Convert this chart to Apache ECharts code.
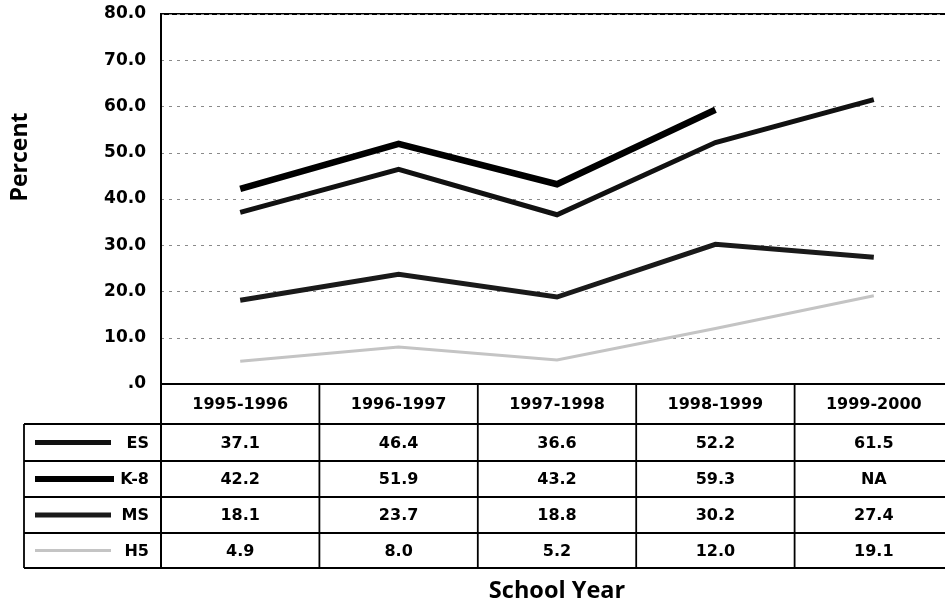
<!DOCTYPE html>
<html>
<head>
<meta charset="utf-8">
<script src="https://cdn.jsdelivr.net/npm/echarts@6/dist/echarts.min.js"></script>
<style>
html,body{margin:0;padding:0;background:#fff;}
#chart{width:945px;height:603px;}
</style>
</head>
<body>
<div id="chart"></div>
<script>
// ---- data ----
const categories = ['1995-1996', '1996-1997', '1997-1998', '1998-1999', '1999-2000'];
const seriesNames = ['ES', 'K-8', 'MS', 'H5'];
const esValues = [37.1, 46.4, 36.6, 52.2, 61.5];
const k8Values = [42.2, 51.9, 43.2, 59.3, null];
const msValues = [18.1, 23.7, 18.8, 30.2, 27.4];
const hsValues = [4.9, 8.0, 5.2, 12.0, 19.1];
const yMin = 0, yMax = 80, yStep = 10;
const yAxisTitle = 'Percent';
const xAxisTitle = 'School Year';

// ---- styles ----
const seriesValues = [esValues, k8Values, msValues, hsValues];
const lineStyles = [
  { color: '#111111', width: 5 },
  { color: '#000000', width: 6.5 },
  { color: '#1a1a1a', width: 5 },
  { color: '#c4c4c4', width: 3 }
];
const FONT = 'DejaVu Sans';
const GRID_LEFT = 161, GRID_TOP = 14, GRID_BOTTOM_Y = 384, GRID_RIGHT = -8;
const TABLE_LEFT = 24;
const rowEdges = [384, 424, 461, 497, 533, 568];

const chart = echarts.init(document.getElementById('chart'), null, { renderer: 'canvas' });

const option = {
  animation: false,
  backgroundColor: '#ffffff',
  grid: {
    left: GRID_LEFT, top: GRID_TOP, right: GRID_RIGHT, bottom: 603 - GRID_BOTTOM_Y,
    show: true, borderColor: '#000', borderWidth: 2,
    containLabel: false, outerBoundsMode: 'none'
  },
  xAxis: {
    type: 'category',
    data: categories,
    boundaryGap: true,
    axisLine: { show: true, lineStyle: { color: '#000', width: 2 } },
    axisTick: { show: false },
    axisLabel: { show: false },
    splitLine: { show: false },
    name: xAxisTitle,
    nameLocation: 'middle',
    nameGap: 195,
    nameTextStyle: { fontFamily: 'Open Sans', fontWeight: 'bold', fontSize: 23.5, color: '#000' }
  },
  yAxis: {
    type: 'value',
    min: yMin, max: yMax, interval: yStep,
    axisLine: { show: true, lineStyle: { color: '#000', width: 2 } },
    axisTick: { show: false },
    axisLabel: {
      margin: 15,
      fontFamily: FONT, fontWeight: 'bold', fontSize: 17, color: '#000',
      formatter: v => (v === 0 ? '.0' : v.toFixed(1))
    },
    splitLine: { show: true, lineStyle: { color: '#8a8a8a', width: 1, type: [3, 5] } },
    name: yAxisTitle,
    nameLocation: 'middle',
    nameRotate: 90,
    nameGap: 129,
    nameTextStyle: {
      fontFamily: 'Open Sans', fontWeight: 'bold', fontSize: 23, color: '#000',
      padding: [0, 0, 0, 84]
    }
  },
  series: seriesNames.map((name, i) => ({
    name: name,
    type: 'line',
    data: seriesValues[i],
    showSymbol: false,
    symbol: 'none',
    connectNulls: false,
    lineStyle: { color: lineStyles[i].color, width: lineStyles[i].width, cap: 'butt', join: 'miter' },
    z: 3 + (3 - i)
  }))
};
chart.setOption(option);

// ---- data table below the plot, positioned from the category axis ----
function buildTable() {
  const c0 = chart.convertToPixel({ xAxisIndex: 0 }, 0);
  const c1 = chart.convertToPixel({ xAxisIndex: 0 }, 1);
  const band = c1 - c0;
  const centers = categories.map((_, i) => chart.convertToPixel({ xAxisIndex: 0 }, i));
  const gridLeft = centers[0] - band / 2;
  const gridRight = centers[centers.length - 1] + band / 2;
  const els = [];
  const lineEl = (x1, y1, x2, y2, w) => ({
    type: 'line', silent: true, z: 10,
    shape: { x1, y1, x2, y2 },
    style: { stroke: '#000', lineWidth: w || 1.6 }
  });
  const textEl = (x, y, text, align) => ({
    type: 'text', silent: true, z: 11,
    x, y,
    style: {
      text, fill: '#000', font: 'bold 16px "' + FONT + '"',
      align: align || 'center', verticalAlign: 'middle'
    }
  });
  // horizontal lines
  els.push(lineEl(gridLeft, rowEdges[0], gridRight, rowEdges[0], 2));
  for (let r = 1; r < rowEdges.length; r++) {
    els.push(lineEl(TABLE_LEFT, rowEdges[r], gridRight, rowEdges[r], 1.8));
  }
  // vertical lines
  els.push(lineEl(TABLE_LEFT, rowEdges[1], TABLE_LEFT, rowEdges[rowEdges.length - 1], 1.8));
  for (let i = 0; i <= categories.length; i++) {
    const x = gridLeft + i * band;
    els.push(lineEl(x, rowEdges[0], x, rowEdges[rowEdges.length - 1], i === 0 ? 2 : 1.8));
  }
  // header
  categories.forEach((cat, i) => {
    els.push(textEl(centers[i], (rowEdges[0] + rowEdges[1]) / 2 + 1, cat));
  });
  // rows
  seriesNames.forEach((name, r) => {
    const yc = (rowEdges[r + 1] + rowEdges[r + 2]) / 2 + 1;
    seriesValues[r].forEach((v, i) => {
      els.push(textEl(centers[i], yc, v == null ? 'NA' : v.toFixed(1)));
    });
    // legend sample
    els.push(textEl(gridLeft - 12, yc, name, 'right'));
    const sampleEnd = name === 'K-8' ? 114 : 111;
    els.push({
      type: 'line', silent: true, z: 11,
      shape: { x1: 35, y1: yc - 1, x2: sampleEnd, y2: yc - 1 },
      style: { stroke: lineStyles[r].color, lineWidth: Math.min(lineStyles[r].width, 6), lineCap: 'butt' }
    });
  });
  chart.setOption({ graphic: { elements: els } });
}
buildTable();
</script>
</body>
</html>
